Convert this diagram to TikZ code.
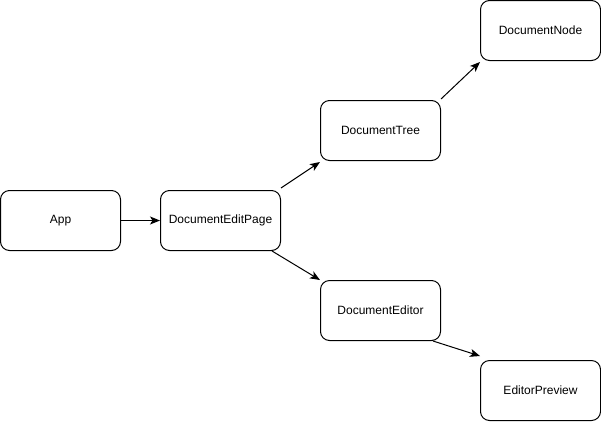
\documentclass[tikz,border=0pt]{standalone}
\usepackage{fontspec}
\setmainfont{Liberation Sans}
\usetikzlibrary{arrows.meta}
\begin{document}
\begin{tikzpicture}[x=1pt,y=-1pt,
  comp/.style={draw, line width=1pt, rounded corners=9pt, minimum width=120pt, minimum height=60pt,
    inner sep=0pt, font=\fontsize{12}{14}\selectfont},
  link/.style={line width=1pt, -{Stealth[length=10pt,width=8pt,inset=2.5pt]}}]
\useasboundingbox (0,0) rectangle (601,421);
\node[comp] (app)  at (60.5,220.5)  {App};
\node[comp] (edit) at (220.5,220.5) {DocumentEditPage};
\node[comp] (tree) at (380.5,130.5) {DocumentTree};
\node[comp] (dnode) at (540.5,30.5) {DocumentNode};
\node[comp] (editor) at (380.5,310.5) {DocumentEditor};
\node[comp] (prev) at (540.5,390.5) {EditorPreview};
\draw[link] (app.east) -- (edit.west);
\draw[link] ([yshift=2pt]edit.north east) -- ([yshift=-1pt]tree.south west);
\draw[link] ([yshift=1pt]tree.north east) -- ([yshift=-1pt]dnode.south west);
\draw[link] ([xshift=-9pt]edit.south east) -- (editor.north west);
\draw[link] ([xshift=-8pt]editor.south east) -- ([yshift=4pt]prev.north west);
\end{tikzpicture}
\end{document}
